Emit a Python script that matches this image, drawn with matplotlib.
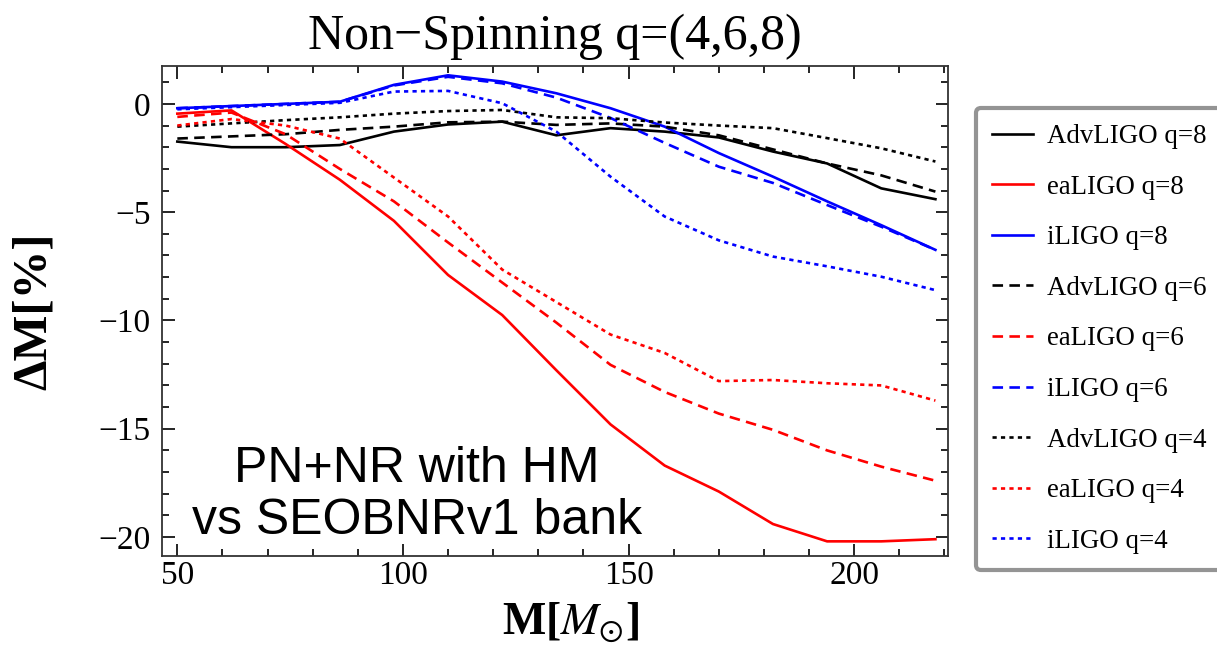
import numpy as np
import matplotlib
matplotlib.use("Agg")
import matplotlib.pyplot as plt
from matplotlib.ticker import MultipleLocator

plt.rcParams['font.family'] = ['Liberation Serif', 'DejaVu Serif']
plt.rcParams['mathtext.fontset'] = 'stix'

# total mass grid
mass = [50, 62, 74, 86, 98, 110, 122, 134, 146, 158, 170, 182, 194, 206, 218]

# AdvLIGO
adv_q8 = [-1.74, -2.0, -2.0, -1.9, -1.28, -0.95, -0.82, -1.45, -1.12, -1.28, -1.55, -2.2, -2.75, -3.9, -4.4]
adv_q6 = [-1.6, -1.5, -1.4, -1.2, -1.05, -0.85, -0.82, -0.97, -0.9, -1.05, -1.45, -2.1, -2.75, -3.3, -4.05]
adv_q4 = [-1.05, -0.9, -0.75, -0.62, -0.45, -0.33, -0.28, -0.62, -0.66, -0.86, -1.0, -1.12, -1.58, -2.05, -2.66]
# eaLIGO
ea_q8 = [-0.45, -0.3, -1.85, -3.5, -5.4, -7.9, -9.75, -12.3, -14.8, -16.7, -17.9, -19.4, -20.2, -20.2, -20.1]
ea_q6 = [-0.6, -0.4, -1.4, -3.0, -4.5, -6.4, -8.25, -10.1, -12.05, -13.3, -14.3, -15.05, -16.0, -16.75, -17.4]
ea_q4 = [-1.0, -0.7, -1.0, -1.6, -3.4, -5.2, -7.65, -9.15, -10.65, -11.5, -12.8, -12.75, -12.9, -13.0, -13.7]
# iLIGO
i_q8 = [-0.2, -0.1, 0.0, 0.1, 0.88, 1.32, 1.03, 0.49, -0.2, -1.05, -2.27, -3.36, -4.5, -5.6, -6.74]
i_q6 = [-0.2, -0.1, 0.0, 0.1, 0.85, 1.25, 0.95, 0.29, -0.65, -1.8, -2.9, -3.65, -4.67, -5.67, -6.74]
i_q4 = [-0.25, -0.15, -0.05, 0.05, 0.57, 0.6, 0.03, -1.28, -3.36, -5.2, -6.3, -7.05, -7.5, -7.98, -8.6]

labels = ['AdvLIGO q=8', 'eaLIGO q=8', 'iLIGO q=8',
          'AdvLIGO q=6', 'eaLIGO q=6', 'iLIGO q=6',
          'AdvLIGO q=4', 'eaLIGO q=4', 'iLIGO q=4']
series = [adv_q8, ea_q8, i_q8, adv_q6, ea_q6, i_q6, adv_q4, ea_q4, i_q4]
colors = ['black', 'red', 'blue'] * 3
styles = ['-'] * 3 + [(0, (4, 2.4))] * 3 + [(0, (1.6, 1.6))] * 3

fig = plt.figure(figsize=(12.17, 6.62), dpi=100)
ax = fig.add_axes([0.1331, 0.160, 0.6459, 0.7403])

handles = []
for y, c, ls, lab in zip(series, colors, styles, labels):
    h, = ax.plot(mass, y, color=c, ls=ls, lw=1.9, label=lab)
    handles.append(h)

ax.set_xlim(46.6, 220.8)
ax.set_ylim(-20.88, 1.75)
ax.xaxis.set_major_locator(MultipleLocator(50))
ax.xaxis.set_minor_locator(MultipleLocator(10))
ax.yaxis.set_major_locator(MultipleLocator(5))
ax.yaxis.set_minor_locator(MultipleLocator(1))
ax.tick_params(which='both', direction='in', top=True, right=True, labelsize=24, width=1.2)
ax.tick_params(axis='y', pad=8)
ax.tick_params(which='major', length=9)
ax.tick_params(which='minor', length=5)
for s in ax.spines.values():
    s.set_linewidth(1.3)
    s.set_color('#333333')

ax.set_title('Non\u2212Spinning q=(4,6,8)', fontsize=36, pad=12)
ax.set_xlabel(r'M[$M_{\odot}$]', fontsize=33, fontweight='bold')
ax.xaxis.set_label_coords(0.52, -0.09)
ax.set_ylabel('\u0394M[%]', fontsize=35, fontweight='bold', labelpad=31)

ax.text(0.324, 0.125, 'PN+NR with HM\nvs SEOBNRv1 bank', transform=ax.transAxes,
        ha='center', va='center', fontsize=36, family=['Liberation Sans', 'DejaVu Sans'],
        linespacing=1.15)

leg = fig.legend(handles=handles, loc='upper left', bbox_to_anchor=(0.802, 0.837),
                 fontsize=19.4, frameon=True, fancybox=True, labelspacing=0.95,
                 handlelength=1.5, handletextpad=0.55, borderpad=0.6,
                 borderaxespad=0)
fr = leg.get_frame()
fr.set_edgecolor('#7a7a7a')
fr.set_linewidth(3)

fig.savefig('out.png', dpi=100)
